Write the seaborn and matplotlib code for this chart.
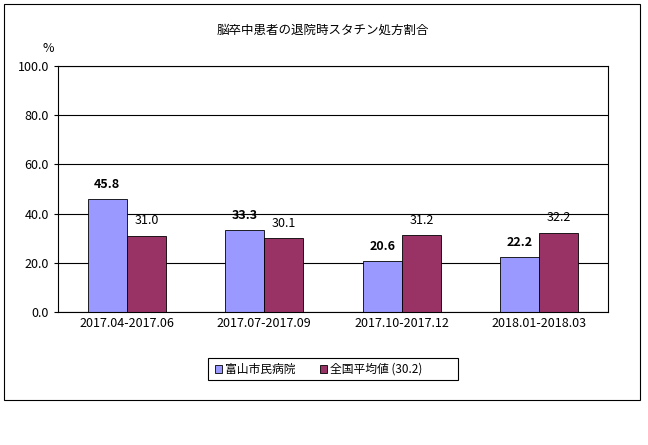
import pandas as pd
import matplotlib.pyplot as plt
import seaborn as sns
from matplotlib.patches import Rectangle

plt.rcParams['font.family'] = 'Noto Sans CJK JP'

# Data
periods = ['2017.04-2017.06', '2017.07-2017.09', '2017.10-2017.12', '2018.01-2018.03']
series_names = ['富山市民病院', '全国平均値 (30.2)']
hospital = [45.8, 33.3, 20.6, 22.2]
national = [31.0, 30.1, 31.2, 32.2]
yticks = [0, 20, 40, 60, 80, 100]

df = pd.DataFrame({
    'period': periods * 2,
    'value': hospital + national,
    'series': [series_names[0]] * 4 + [series_names[1]] * 4,
})

fig = plt.figure(figsize=(6.48, 4.45), dpi=100)
fig.patches.append(Rectangle((4 / 648, 1 - 400 / 445), 636 / 648, 396 / 445,
                             transform=fig.transFigure, fill=False,
                             edgecolor='black', linewidth=0.8))
ax = fig.add_axes([58 / 648, 1 - 312 / 445, 550 / 648, 246 / 445])

sns.barplot(data=df, x='period', y='value', hue='series', ax=ax,
            palette=['#9999FF', '#993366'], edgecolor='black', linewidth=0.6,
            width=0.57, saturation=1, legend=False)

for c, bold in zip(ax.containers, [True, False]):
    ax.bar_label(c, fmt='%.1f', padding=6, fontsize=9,
                 fontweight='bold' if bold else 'normal')

ax.set_ylim(0, 100)
ax.set_yticks(yticks)
ax.set_yticklabels([f'{v:.1f}' for v in yticks], fontsize=9)
ax.yaxis.grid(True, color='black', linewidth=0.8)
ax.set_axisbelow(True)
ax.tick_params(axis='x', labelsize=9, length=0)
ax.tick_params(axis='y', length=3)
ax.set_xlabel('')
ax.set_ylabel('')
for s in ax.spines.values():
    s.set_linewidth(0.8)

fig.text(323 / 648, 1 - 30 / 445, '脳卒中患者の退院時スタチン処方割合', ha='center', va='center', fontsize=9)
fig.text(48 / 648, 1 - 48 / 445, '%', ha='center', va='center', fontsize=9)

# Legend
fig.patches.append(Rectangle((208 / 648, 1 - 380 / 445), 250 / 648, 22 / 445,
                             transform=fig.transFigure, fill=False,
                             edgecolor='black', linewidth=0.8))
for x0, name, col in [(215, series_names[0], '#9999FF'), (320, series_names[1], '#993366')]:
    fig.patches.append(Rectangle((x0 / 648, 1 - 373 / 445), 7 / 648, 8 / 445,
                                 transform=fig.transFigure, facecolor=col,
                                 edgecolor='black', linewidth=0.6))
    fig.text((x0 + 10) / 648, 1 - 369 / 445, name, ha='left', va='center', fontsize=8.5)

fig.savefig('out.png', dpi=100)
